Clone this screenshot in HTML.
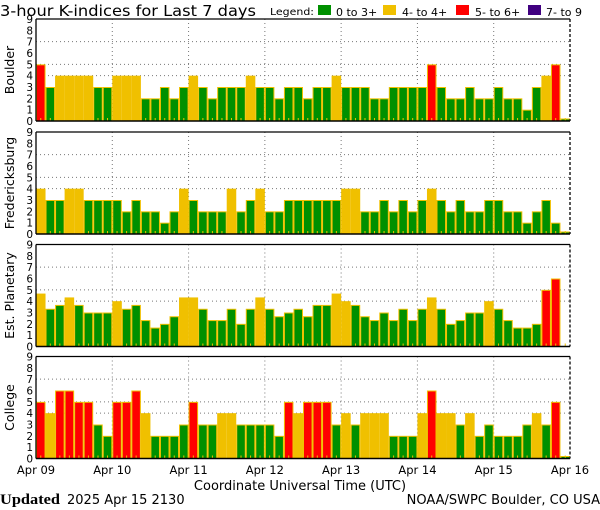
<!DOCTYPE html>
<html><head><meta charset="utf-8"><style>
body{margin:0;background:#fff;width:600px;height:510px;overflow:hidden}
svg{display:block;font-family:"DejaVu Sans","Liberation Sans",sans-serif}
</style></head><body>
<svg id="s" width="600" height="510" xmlns="http://www.w3.org/2000/svg">
<text x="0" y="16" font-size="15.5" textLength="256" lengthAdjust="spacingAndGlyphs">3-hour K-indices for Last 7 days</text>
<text x="270" y="15" font-size="10" textLength="44" lengthAdjust="spacingAndGlyphs">Legend:</text>
<rect x="318" y="5" width="13" height="10" fill="#009000"/><text x="336" y="16" font-size="11">0 to 3+</text>
<rect x="383" y="5" width="13" height="10" fill="#f0c000"/><text x="402" y="16" font-size="11">4- to 4+</text>
<rect x="456" y="5" width="13" height="10" fill="#ff0000"/><text x="475" y="16" font-size="11">5- to 6+</text>
<rect x="528" y="5" width="13" height="10" fill="#400080"/><text x="546" y="16" font-size="11">7- to 9</text>
<text x="300" y="490" font-size="13" text-anchor="middle">Coordinate Universal Time (UTC)</text>
<text x="0" y="504" font-size="15" font-family="Liberation Serif,serif" font-weight="bold" textLength="60" lengthAdjust="spacingAndGlyphs">Updated</text>
<text x="67" y="504" font-size="13">2025 Apr 15 2130</text>
<text x="600" y="504" font-size="13" text-anchor="end">NOAA/SWPC Boulder, CO USA</text>
</svg>
<script>
const s=document.getElementById('s');
const NS='http://www.w3.org/2000/svg';
function el(t,a,txt){const e=document.createElementNS(NS,t);for(const k in a)e.setAttribute(k,a[k]);if(txt!==undefined)e.textContent=txt;s.appendChild(e);return e;}
const X0=36,X1=570,W=(X1-X0)/56;
const panels=[
{name:"Boulder",top:19,v:[5,3,4,4,4,4,3,3, 4,4,4,2,2,3,2,3, 4,3,2,3,3,3,4,3, 3,2,3,3,2,3,3,4, 3,3,3,2,2,3,3,3, 3,5,3,2,2,3,2,2, 3,2,2,1,3,4,5,0.15]},
{name:"Fredericksburg",top:132,v:[4,3,3,4,4,3,3,3, 3,2,3,2,2,1,2,4, 3,2,2,2,4,2,3,4, 2,2,3,3,3,3,3,3, 4,4,2,2,3,2,3,2, 3,4,3,2,3,2,2,3, 3,2,2,1,2,3,1,0.15]},
{name:"Est. Planetary",top:244.5,v:[4.67,3.33,3.67,4.33,3.67,3,3,3, 4,3.33,3.67,2.33,1.67,2,2.67,4.33, 4.33,3.33,2.33,2.33,3.33,2,3.33,4.33, 3.33,2.67,3,3.33,2.67,3.67,3.67,4.67, 4,3.67,2.67,2.33,3,2.33,3.33,2.33, 3.33,4.33,3.33,2,2.33,3,3,4, 3.33,2.33,1.67,1.67,2,5,6,0]},
{name:"College",top:356.5,v:[5,4,6,6,5,5,3,2, 5,5,6,4,2,2,2,3, 5,3,3,4,4,3,3,3, 3,2,5,4,5,5,5,3, 4,3,4,4,4,2,2,2, 4,6,4,4,3,4,2,3, 2,2,2,3,4,3,5,0.15]}
];
const H=102,U=H/9;
function col(v){return v>=6.9?"#400080":v>=4.9?"#ff0000":v>=3.9?"#f0c000":"#009000";}
panels.forEach(p=>{
 const b=p.top+H;
 [4,5,7].forEach(g=>el('line',{x1:X0,x2:X1,y1:b-g*U,y2:b-g*U,stroke:'#777','stroke-dasharray':'1,3','stroke-width':1}));
 for(let d=1;d<7;d++){const x=X0+d*8*W;el('line',{x1:x,x2:x,y1:p.top,y2:b,stroke:'#777','stroke-dasharray':'1,3','stroke-width':1});}
 p.v.forEach((v,i)=>{
  const x=X0+i*W;
  if(v>0){const h=Math.max(v*U,2.5);el('rect',{x:x+0.5,y:b-h+0.5,width:W-1,height:Math.max(h-0.5,0.5),fill:col(v),stroke:'#f0c000','stroke-width':1});}
  el('rect',{x:x+W/2-0.5,y:b-3,width:1,height:3,fill:'#f0c000'});
 });
 el('line',{x1:X0,x2:X1,y1:p.top,y2:p.top,stroke:'#000','stroke-width':1.3});
 el('line',{x1:X0,x2:X1,y1:b,y2:b,stroke:'#000','stroke-width':1.5});
 el('line',{x1:X0,x2:X0,y1:p.top,y2:b,stroke:'#000','stroke-width':1.3});
 el('line',{x1:X1,x2:X1,y1:p.top,y2:b,stroke:'#000','stroke-width':1.3,'stroke-dasharray':'3,2'});
 for(let k=0;k<=9;k++)el('text',{x:33,y:b-k*U+4,'font-size':10.5,'text-anchor':'end'},String(k));
 const cy=p.top+H/2;
 el('text',{x:0,y:0,'font-size':12.5,'text-anchor':'middle',transform:`translate(14 ${cy}) rotate(-90)`},p.name);
});
["Apr 09","Apr 10","Apr 11","Apr 12","Apr 13","Apr 14","Apr 15","Apr 16"].forEach((t,d)=>{
 el('text',{x:X0+d*8*W,y:474,'font-size':11.5,'text-anchor':'middle'},t);
});
</script>
</body></html>
